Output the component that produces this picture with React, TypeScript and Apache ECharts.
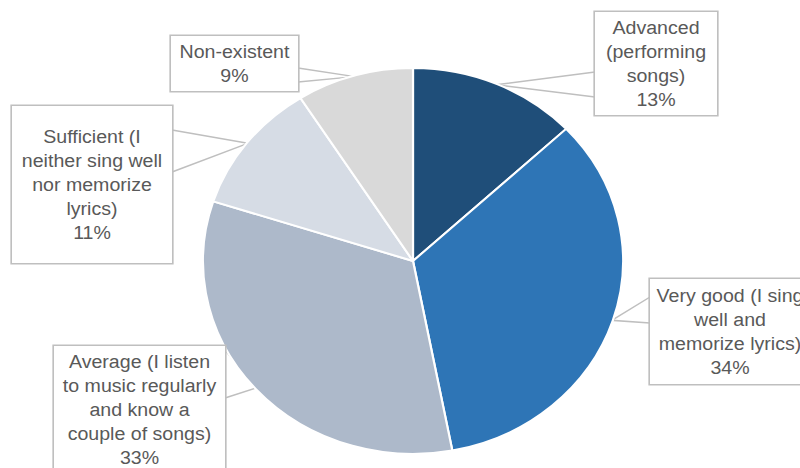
import React, { useEffect, useRef } from "react";
import * as echarts from "echarts";

// ---- data ----
const categories = [
  "Advanced (performing songs)",
  "Very good (I sing well and memorize lyrics)",
  "Average (I listen to music regularly and know a couple of songs)",
  "Sufficient (I neither sing well nor memorize lyrics)",
  "Non-existent",
];
const percents = [13, 34, 33, 11, 9];
const labelLines = [
  ["Advanced", "(performing", "songs)"],
  ["Very good (I sing", "well and", "memorize lyrics)"],
  ["Average (I listen", "to music regularly", "and know a", "couple of songs)"],
  ["Sufficient (I", "neither sing well", "nor memorize", "lyrics)"],
  ["Non-existent"],
];
const colors = ["#1F4E79", "#2E75B6", "#ADB9CA", "#D6DCE5", "#D9D9D9"];

// ---- layout (final page pixels) ----
const S = 800 / 735; // horizontal stretch of the picture
const CX = 413 / S;
const CY = 261;
const R = 193;
const LINE_H = 24;
const BOXES = [
  { cx: 656, cy: 63.5, w: 122, h: 103, side: "left", wy: [72, 97] },
  { cx: 730, cy: 331.5, w: 160, h: 105, side: "left", wy: [297, 323] },
  { cx: 139.5, cy: 409.5, w: 171, h: 127, side: "right", wy: [350, 398] },
  { cx: 92, cy: 184.5, w: 160, h: 157, side: "right", wy: [130, 172] },
  { cx: 234.5, cy: 63.5, w: 127, h: 55, side: "right", wy: [68, 82] },
];

export default function App() {
  const ref = useRef<HTMLDivElement>(null);
  useEffect(() => {
    if (!ref.current) return;
    const chart = echarts.init(ref.current, null, { renderer: "svg" });
    const total = percents.reduce((a, b) => a + b, 0);
    const data = categories.map((name, i) => {
      const b = BOXES[i];
      const nLines = labelLines[i].length + 1;
      const padV = Math.max(0, (b.h - nLines * LINE_H) / 2);
      const innerW = b.w / S;
      return {
        name,
        value: percents[i],
        itemStyle: { color: colors[i] },
        label: {
          width: innerW - 8,
          padding: [padV, 4, padV, 4],
        },
      };
    });
    chart.setOption({
      animation: false,
      backgroundColor: "#ffffff",
      series: [
        {
          type: "pie",
          center: [CX, CY],
          radius: R,
          startAngle: 90,
          clockwise: true,
          avoidLabelOverlap: false,
          silent: true,
          emphasis: { disabled: true },
          data,
          itemStyle: { borderColor: "#ffffff", borderWidth: 2 },
          label: {
            show: true,
            position: "outside",
            formatter: (p: any) =>
              labelLines[p.dataIndex].join("\n") + "\n" + percents[p.dataIndex] + "%",
            fontFamily: "Liberation Sans, Arial, sans-serif",
            fontSize: 18,
            lineHeight: LINE_H,
            color: "#595959",
            align: "center",
            backgroundColor: "#ffffff",
            borderColor: "#BFBFBF",
            borderWidth: 1.5,
          },
          labelLine: {
            show: true,
            length: 10,
            length2: 10,
            lineStyle: { color: "#BFBFBF", width: 1.5 },
          },
          labelLayout: (p: any) => {
            const i = p.dataIndex;
            const b = BOXES[i];
            const ex = (b.side === "left" ? b.cx - b.w / 2 : b.cx + b.w / 2) / S;
            let cum = 0;
            for (let k = 0; k < i; k++) cum += percents[k];
            const a = ((cum + percents[i] / 2) / total) * Math.PI * 2;
            const tip = [CX + (R - 1) * Math.sin(a), CY - (R - 1) * Math.cos(a)];
            return {
              x: b.cx / S,
              y: b.cy,
              align: "center",
              verticalAlign: "middle",
              labelLinePoints: [[ex, b.wy[0]], tip, [ex, b.wy[1]]],
            };
          },
        },
      ],
    });
    return () => chart.dispose();
  }, []);
  return (
    <div
      style={{
        position: "fixed",
        left: 0,
        top: 0,
        width: 800,
        height: 468,
        overflow: "hidden",
        background: "#ffffff",
      }}
    >
      <div
        ref={ref}
        style={{
          width: 735,
          height: 468,
          transform: `scaleX(${S})`,
          transformOrigin: "0 0",
        }}
      />
    </div>
  );
}
